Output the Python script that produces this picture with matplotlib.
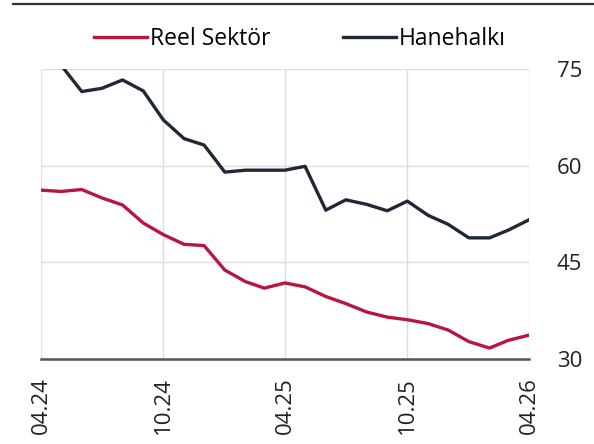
import matplotlib
matplotlib.use("Agg")
import numpy as np
import pandas as pd
import matplotlib.pyplot as plt
import matplotlib.dates as mdates
from matplotlib.lines import Line2D

plt.rcParams['font.family'] = ['Open Sans', 'DejaVu Sans']

months = pd.date_range('2024-04-01', periods=25, freq='MS')

reel_sektor = [56.2, 56.0, 56.3, 55.0, 53.9, 51.1, 49.3, 47.8, 47.6, 43.8,
               42.0, 41.0, 41.8, 41.2, 39.7, 38.6, 37.3, 36.5, 36.1, 35.5,
               34.5, 32.7, 31.7, 32.9, 33.7]
hanehalki = [80.0, 75.6, 71.5, 72.0, 73.3, 71.6, 67.1, 64.2, 63.2, 59.0,
             59.3, 59.3, 59.3, 59.9, 53.1, 54.7, 54.0, 53.0, 54.5, 52.3,
             50.9, 48.8, 48.8, 50.0, 51.6]

tick_dates = pd.to_datetime(['2024-04-01', '2024-10-01', '2025-04-01',
                             '2025-10-01', '2026-04-01'])
y_ticks = [30, 45, 60, 75]

red = '#b8163f'
navy = '#1e2935'

fig = plt.figure(figsize=(5.94, 4.44), dpi=100)
ax = fig.add_axes([0.069, 0.1914, 0.8216, 0.6532])

ax.plot(months, reel_sektor, color=red, lw=2.4, solid_joinstyle='round',
        label='Reel Sektör')
ax.plot(months, hanehalki, color=navy, lw=2.4, solid_joinstyle='round',
        label='Hanehalkı')

ax.set_xlim(tick_dates[0], tick_dates[-1])
ax.set_ylim(30, 75)
ax.set_xticks(tick_dates)
ax.xaxis.set_major_formatter(mdates.DateFormatter('%m.%y'))
ax.set_yticks(y_ticks)

ax.yaxis.tick_right()
ax.tick_params(axis='y', length=0, pad=20, labelsize=16, colors='#222222')
ax.tick_params(axis='x', length=0, pad=13, labelsize=16, colors='#222222',
               labelrotation=90)

ax.grid(True, color='#dddddd', lw=1.0)
ax.set_axisbelow(True)
for side in ['left', 'right', 'top']:
    ax.spines[side].set_visible(False)
ax.spines['bottom'].set_color('#555555')
ax.spines['bottom'].set_linewidth(1.8)

fig.legend(loc='center', bbox_to_anchor=(0.505, 0.912), ncol=2,
           frameon=False, fontsize=16.5, handlelength=2.3,
           handletextpad=0.12, columnspacing=3.2)

# rule across the top
fig.add_artist(Line2D([0.022, 1.0], [0.991, 0.991], color='#333333', lw=1.6))

fig.savefig('out.png', dpi=100)
